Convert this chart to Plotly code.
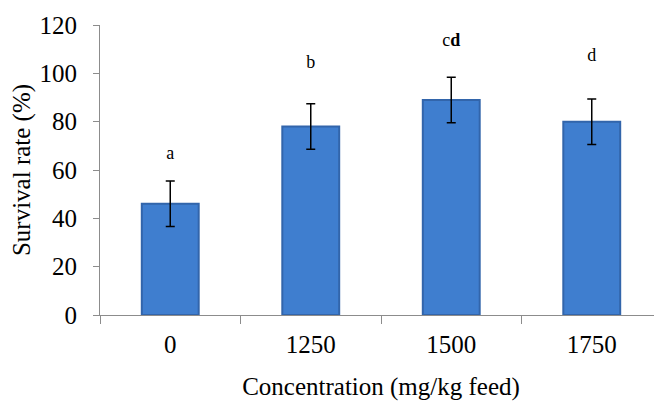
import plotly.graph_objects as go

categories = ["0", "1250", "1500", "1750"]
survival = [46, 78, 89, 80]
errors = [9.4, 9.4, 9.4, 9.4]
letters = ["a", "b", "c<b>d</b>", "d"]
letter_y = [66.5, 104, 113, 107]

FONT = "Liberation Serif, Times New Roman, serif"

fig = go.Figure()
fig.add_trace(go.Bar(
    x=categories, y=survival,
    width=0.405,
    marker=dict(color="#3f7ecf", line=dict(color="#3265ab", width=2)),
    error_y=dict(type="data", array=errors, visible=True, color="black", thickness=1.5, width=4.5),
))
fig.add_trace(go.Scatter(
    x=categories, y=letter_y, mode="text", text=letters,
    textfont=dict(family=FONT, size=18, color="black"),
    hoverinfo="skip",
))

# page body has an 8px margin, so the figure is offset by 8px
fig.update_layout(
    width=654, height=393,
    margin=dict(l=92, r=0, t=17, b=86, autoexpand=False),
    plot_bgcolor="white", paper_bgcolor="white",
    showlegend=False,
    font=dict(family=FONT, color="black"),
)
fig.update_xaxes(
    type="category", showline=True, linecolor="#8c8c8c", linewidth=1.2,
    ticks="outside", tickson="boundaries", ticklen=8, tickcolor="#8c8c8c",
    tickfont=dict(family=FONT, size=25), ticklabelstandoff=7,
    title=dict(text="Concentration (mg/kg feed)", font=dict(family=FONT, size=25), standoff=21),
    showgrid=False, automargin=False,
)
fig.update_yaxes(
    range=[0, 120], dtick=20, showline=True, linecolor="#8c8c8c", linewidth=1.2,
    ticks="outside", ticklen=6, tickcolor="#8c8c8c",
    tickfont=dict(family=FONT, size=25), ticklabelstandoff=11,
    title=dict(text="Survival rate (%)", font=dict(family=FONT, size=25), standoff=8),
    showgrid=False, zeroline=False, automargin=False,
)

fig.write_html("out.html")
